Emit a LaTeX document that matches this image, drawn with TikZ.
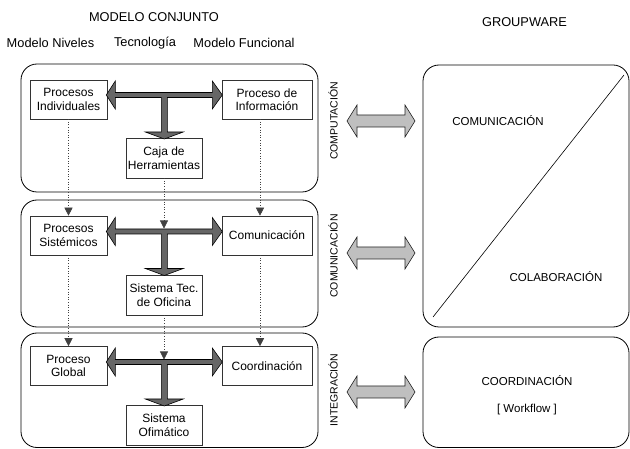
\documentclass[tikz,border=0pt]{standalone}
\usepackage{fontspec}
\setmainfont{Liberation Sans}
\usetikzlibrary{arrows.meta,calc}
\newcommand{\TArrow}[1]{%
  \draw[tarrow] (#1) -- ++(9,-14) -- ++(0,11.5) -- ++(97,0) -- ++(0,-11.5) -- ++(10,14)
    -- ++(-10,14) -- ++(0,-11.5) -- ++(-45,0) -- ++(0,34.5) -- ++(16,0) -- ++(-19,7)
    -- ++(-19,-7) -- ++(16,0) -- ++(0,-34.5) -- ++(-46,0) -- ++(0,11.5) -- cycle;}
\newcommand{\GArrow}[1]{%
  \draw[garrow] (#1) -- ++(10,-16) -- ++(0,10) -- ++(48,0) -- ++(0,-10) -- ++(10,16)
    -- ++(-10,16) -- ++(0,-10) -- ++(-48,0) -- ++(0,10) -- cycle;}
\begin{document}
\begin{tikzpicture}[x=1pt,y=-1pt,
  box/.style={draw=black!80,line width=0.6pt,fill=white,align=center,inner sep=1pt,
    font=\fontsize{12}{13.5}\selectfont},
  bigbox/.style={draw=black,line width=0.8pt,rounded corners=16pt},
  hdr/.style={font=\fontsize{12.8}{15}\selectfont},
  vlab/.style={rotate=90,font=\fontsize{10.5}{12}\selectfont},
  rlab/.style={font=\fontsize{11.5}{13}\selectfont},
  tarrow/.style={draw=black,line width=0.6pt,fill=black!60,line join=miter},
  garrow/.style={draw=black!85,line width=0.6pt,fill=black!25},
  dots/.style={draw=black!75,dotted,line width=0.6pt,-{Triangle[length=8pt,width=8pt]}}]
\useasboundingbox (0,0) rectangle (630,449);
% headers
\node[hdr] (h1) at (154,17) {MODELO CONJUNTO};
\node[hdr] (h2) at (50.5,43) {Modelo Niveles};
\node[hdr] (h3) at (145,43) {Tecnología};
\node[hdr] (h4) at (244,43) {Modelo Funcional};
\node[hdr] (h5) at (524.5,22) {GROUPWARE};
% big boxes
\draw[bigbox] (21,64) rectangle (318,192);
\draw[bigbox] (21,200) rectangle (318,327);
\draw[bigbox] (21,333) rectangle (318,447.5);
\draw[bigbox] (423,65) rectangle (629,327);
\draw[bigbox] (423,337) rectangle (629,447.5);
% row 1
\node[box,minimum width=77pt,minimum height=39pt] (pi) at (68.5,99.5) {Procesos\\Individuales};
\node[box,minimum width=90pt,minimum height=39pt] (pinf) at (267,99.5) {Proceso de\\Información};
\node[box,minimum width=76pt,minimum height=40pt] (caja) at (164,158) {Caja de\\Herramientas};
% row 2
\node[box,minimum width=77pt,minimum height=39pt] (ps) at (68.5,235.5) {Procesos\\Sistémicos};
\node[box,minimum width=90pt,minimum height=39pt] (com) at (267,235.5) {Comunicación};
\node[box,minimum width=76pt,minimum height=40pt] (stec) at (164,295) {Sistema Tec.\\de Oficina};
% row 3
\node[box,minimum width=77pt,minimum height=39pt] (pg) at (68.5,366) {Proceso\\Global};
\node[box,minimum width=90pt,minimum height=39pt] (coo) at (267,366) {Coordinación};
\node[box,minimum width=76pt,minimum height=40pt] (sof) at (164,425) {Sistema\\Ofimático};
% T arrows
\coordinate (t1) at ([yshift=4.5pt,xshift=-1pt]pi.east);
\coordinate (t2) at ([yshift=4pt,xshift=-1pt]ps.east);
\coordinate (t3) at ([yshift=4pt,xshift=-1pt]pg.east);
\TArrow{t1}
\TArrow{t2}
\TArrow{t3}
% dotted connectors
\coordinate (d1) at (164,228.5);
\coordinate (d2) at (164,359.5);
\draw[dots] (pi.south) -- (ps.north);
\draw[dots] (caja.south -| d1) -- (d1);
\draw[dots] ([xshift=-7pt]pinf.south) -- ([xshift=-7pt]com.north);
\draw[dots] (ps.south) -- (pg.north);
\draw[dots] (stec.south -| d2) -- (d2);
\draw[dots] ([xshift=-7pt]com.south) -- ([xshift=-7pt]coo.north);
% vertical labels
\node[vlab] (v1) at (333,121) {COMPUTACIÓN};
\node[vlab] (v2) at (333,256) {COMUNICACIÓN};
\node[vlab] (v3) at (333,390) {INTEGRACIÓN};
% gray arrows
\coordinate (g1) at (347,121);
\coordinate (g2) at (347,253);
\coordinate (g3) at (347,392);
\GArrow{g1}
\GArrow{g2}
\GArrow{g3}
% groupware content
\coordinate (dg1) at (433,317);
\coordinate (dg2) at (624,75);
\draw[line width=0.6pt] (dg1) -- (dg2);
\node[rlab] (r1) at (498,121) {COMUNICACIÓN};
\node[rlab] (r2) at (556,277) {COLABORACIÓN};
\node[rlab] (r3) at (527,381) {COORDINACIÓN};
\node[rlab] (r4) at (527,410) {[ Workflow ]};
\end{tikzpicture}
\end{document}
